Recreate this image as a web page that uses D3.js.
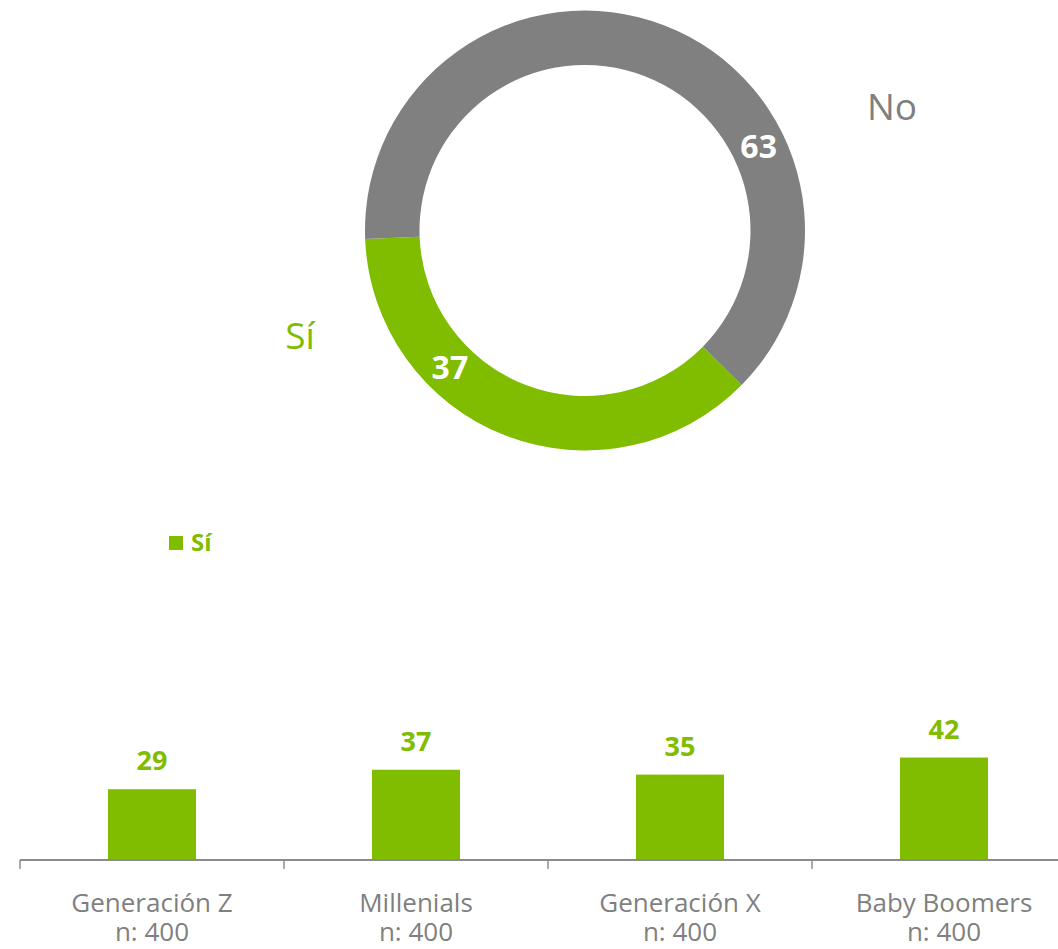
<!DOCTYPE html>
<html lang="es">
<head>
<meta charset="utf-8">
<title>Sí / No por generación</title>
<script src="https://cdn.jsdelivr.net/npm/d3@7"></script>
<style>
  html, body { margin: 0; padding: 0; background: #ffffff; }
  svg { display: block; font-family: "Open Sans", "Noto Sans", sans-serif; }
</style>
</head>
<body>
<svg id="chart" width="1058" height="949"></svg>
<script>
// Overall answer (donut)
const answerNames = ["Sí", "No"];
const answerValues = [37, 63];

// Answer "Sí" by generation (bars)
const generations = ["Generación Z", "Millenials", "Generación X", "Baby Boomers"];
const sampleSizes = ["n: 400", "n: 400", "n: 400", "n: 400"];
const siValues = [29, 37, 35, 42];
const legendLabels = ["Sí"];

const GREEN = "#80bc00";
const GREY = "#808080";
const TEXT_GREY = "#7f7f7f";
const AXIS_GREY = "#8c8c8c";

const svg = d3.select("#chart");

// ---------- Donut ----------
const cx = 585, cy = 230.5, rOuter = 220, rInner = 165.5;
const deg = Math.PI / 180;
const start = 134.6 * deg;

const color = d3.scaleOrdinal().domain(answerNames).range([GREEN, GREY]);

const pie = d3.pie().sort(null).startAngle(start).endAngle(start + 2 * Math.PI);
const arcs = pie(answerValues).map((a, i) => Object.assign(a, { name: answerNames[i] }));

const arc = d3.arc().innerRadius(rInner).outerRadius(rOuter);
const donut = svg.append("g").attr("transform", `translate(${cx},${cy})`);

donut.selectAll("path.slice")
  .data(arcs)
  .join("path")
  .attr("class", "slice")
  .attr("d", arc)
  .attr("fill", d => color(d.name));

// value labels sit mid-ring, roughly two thirds of the way along each slice
const labelAlong = { "Sí": 0.675, "No": 0.69 };
const labelArc = d3.arc().innerRadius((rInner + rOuter) / 2).outerRadius((rInner + rOuter) / 2);
donut.selectAll("text.val")
  .data(arcs)
  .join("text")
  .attr("class", "val")
  .attr("transform", d => {
    const a = d.startAngle + labelAlong[d.name] * (d.endAngle - d.startAngle);
    const [x, y] = labelArc.centroid({ startAngle: a, endAngle: a });
    return `translate(${x},${y})`;
  })
  .attr("dy", "0.35em")
  .attr("text-anchor", "middle")
  .attr("fill", "#ffffff")
  .attr("font-weight", 700)
  .attr("font-size", 32)
  .text(d => d.data);

// category names beside the ring
const nameSpots = { "Sí": [300, 349, GREEN], "No": [892, 120, TEXT_GREY] };
svg.selectAll("text.catname")
  .data(answerNames)
  .join("text")
  .attr("class", "catname")
  .attr("x", d => nameSpots[d][0])
  .attr("y", d => nameSpots[d][1])
  .attr("text-anchor", "middle")
  .attr("font-size", 37)
  .attr("fill", d => nameSpots[d][2])
  .text(d => d);

// ---------- Bars ----------
const x = d3.scaleBand()
  .domain(generations)
  .range([20, 1076])
  .paddingInner(2 / 3)
  .paddingOuter(1 / 3);

const y = d3.scaleLinear().domain([0, 100]).range([860, 616]);

const bars = svg.append("g");

bars.selectAll("rect")
  .data(siValues)
  .join("rect")
  .attr("x", (d, i) => x(generations[i]))
  .attr("width", x.bandwidth())
  .attr("y", d => y(d))
  .attr("height", d => y(0) - y(d))
  .attr("fill", GREEN);

bars.selectAll("text.barval")
  .data(siValues)
  .join("text")
  .attr("class", "barval")
  .attr("x", (d, i) => x(generations[i]) + x.bandwidth() / 2)
  .attr("y", d => y(d) - 19)
  .attr("text-anchor", "middle")
  .attr("font-weight", 700)
  .attr("font-size", 27)
  .attr("fill", GREEN)
  .text(d => d);

// axis line with ticks at the category boundaries
const axis = svg.append("g");
const baseY = y(0);
axis.append("line")
  .attr("x1", x.range()[0]).attr("x2", x.range()[1])
  .attr("y1", baseY).attr("y2", baseY)
  .attr("stroke", AXIS_GREY).attr("stroke-width", 2);

const edgeOffset = (x.step() - x.bandwidth()) / 2;
const edges = generations.map(g => x(g) - edgeOffset).concat([x.range()[1]]);
axis.selectAll("line.tick")
  .data(edges)
  .join("line")
  .attr("class", "tick")
  .attr("x1", d => d).attr("x2", d => d)
  .attr("y1", baseY).attr("y2", baseY + 9)
  .attr("stroke", AXIS_GREY).attr("stroke-width", 1.5);

const catLabels = axis.selectAll("text.cat")
  .data(generations)
  .join("text")
  .attr("class", "cat")
  .attr("text-anchor", "middle")
  .attr("font-size", 26)
  .attr("fill", TEXT_GREY);

catLabels.append("tspan")
  .attr("x", d => x(d) + x.bandwidth() / 2)
  .attr("y", 912)
  .text(d => d);
catLabels.append("tspan")
  .attr("x", d => x(d) + x.bandwidth() / 2)
  .attr("y", 941)
  .text((d, i) => sampleSizes[i]);

// legend
const legend = svg.append("g").attr("transform", "translate(169,536)");
legend.selectAll("rect")
  .data(legendLabels)
  .join("rect")
  .attr("width", 14).attr("height", 14)
  .attr("fill", GREEN);
legend.selectAll("text")
  .data(legendLabels)
  .join("text")
  .attr("x", 22).attr("y", 15)
  .attr("font-size", 24)
  .attr("font-weight", 700)
  .attr("fill", GREEN)
  .text(d => d);
</script>
</body>
</html>
